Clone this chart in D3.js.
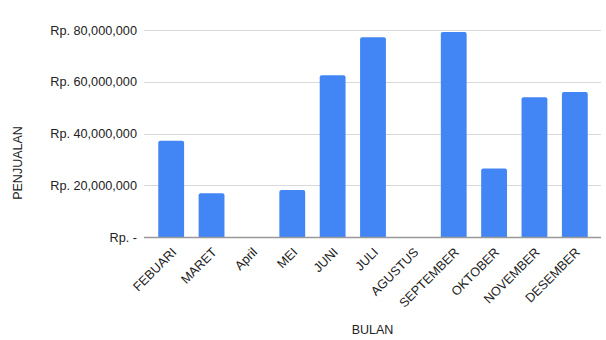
<!DOCTYPE html>
<html><head><meta charset="utf-8">
<script src="https://cdn.jsdelivr.net/npm/d3@7"></script>
<style>
html,body{margin:0;padding:0;background:#fff;}
svg text{font-family:"Liberation Sans",Arial,sans-serif;fill:#222;}
</style></head>
<body><svg id="c" width="606" height="340"></svg>
<script>
const categories = ["FEBUARI","MARET","April","MEI","JUNI","JULI","AGUSTUS","SEPTEMBER","OKTOBER","NOVEMBER","DESEMBER"];
const sales = [37200000,16900000,0,18200000,62500000,77200000,0,79200000,26500000,54000000,56000000];
const yTicks = [0,20000000,40000000,60000000,80000000];
const yTickLabels = ["Rp. -","Rp. 20,000,000","Rp. 40,000,000","Rp. 60,000,000","Rp. 80,000,000"];
const xTitle = "BULAN", yTitle = "PENJUALAN";

const svg = d3.select("#c");
const axL = 144, axR = 601, plotTop = 30, base = 237;
const x = d3.scaleBand().domain(categories).range([151, 595]).paddingInner(0.36).paddingOuter(0.18);
const y = d3.scaleLinear().domain([0, 80000000]).range([base, plotTop]);

// gridlines
svg.append("g").selectAll("line").data(yTicks.slice(1)).join("line")
  .attr("x1", axL).attr("x2", axR)
  .attr("y1", d => Math.round(y(d)) + 0.5).attr("y2", d => Math.round(y(d)) + 0.5)
  .attr("stroke", "#d9d9d9").attr("stroke-width", 1);

// y axis labels
const yAxis = d3.axisLeft(y).tickValues(yTicks).tickSize(0).tickPadding(7)
  .tickFormat((d, i) => yTickLabels[i]);
const gy = svg.append("g").attr("transform", `translate(${axL},0)`).call(yAxis);
gy.select(".domain").remove();
gy.selectAll("text").attr("font-size", "12.7px").attr("fill", "#222").attr("font-family", '"Liberation Sans",Arial,sans-serif');

// bars
svg.append("g").selectAll("path").data(categories.map((c, i) => ({c, v: sales[i]})).filter(d => d.v > 0)).join("path")
  .attr("fill", "#4285f4")
  .attr("d", d => {
    const x0 = x(d.c), w = x.bandwidth(), y0 = y(d.v), r = 2;
    return `M${x0},${base}V${y0 + r}Q${x0},${y0} ${x0 + r},${y0}H${x0 + w - r}Q${x0 + w},${y0} ${x0 + w},${y0 + r}V${base}Z`;
  });

// x axis
const xAxis = d3.axisBottom(x).tickSize(0).tickPadding(0);
const gx = svg.append("g").attr("transform", `translate(0,${base})`).call(xAxis);
gx.select(".domain").remove();
gx.selectAll("text")
  .attr("font-size", "12.7px").attr("fill", "#222").attr("font-family", '"Liberation Sans",Arial,sans-serif')
  .attr("text-anchor", "end").attr("dy", null).attr("y", 0)
  .attr("transform", "translate(6,16) rotate(-45)");

svg.append("line").attr("x1", axL).attr("x2", axR).attr("y1", base + 0.5).attr("y2", base + 0.5)
  .attr("stroke", "#999").attr("stroke-width", 1.5);

// titles
svg.append("text").attr("x", (axL + axR) / 2).attr("y", 334).attr("text-anchor", "middle")
  .attr("font-size", "12.5px").text(xTitle);
svg.append("text").attr("transform", "translate(22,163) rotate(-90)").attr("text-anchor", "middle")
  .attr("font-size", "12.5px").text(yTitle);
</script></body></html>
